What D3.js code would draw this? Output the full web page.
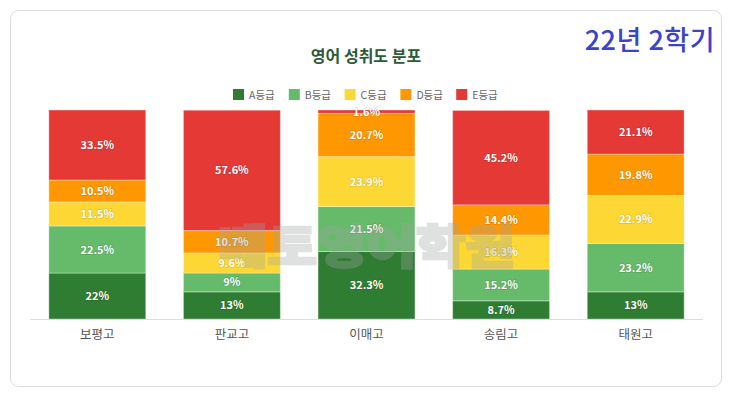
<!DOCTYPE html>
<html>
<head>
<meta charset="utf-8">
<script src="https://cdn.jsdelivr.net/npm/d3@7"></script>
<style>
  body { margin: 0; background: #fff; }
  svg text { font-family: "Noto Sans CJK KR", "Noto Sans", sans-serif; }
</style>
</head>
<body>
<div id="my_chart"></div>
<script>
// data
var schools = ["보평고", "판교고", "이매고", "송림고", "태원고"];
var grades = ["A등급", "B등급", "C등급", "D등급", "E등급"];
var gradeA = [22, 13, 32.3, 8.7, 13];
var gradeB = [22.5, 9, 21.5, 15.2, 23.2];
var gradeC = [11.5, 9.6, 23.9, 16.3, 22.9];
var gradeD = [10.5, 10.7, 20.7, 14.4, 19.8];
var gradeE = [33.5, 57.6, 1.6, 45.2, 21.1];
var colors = ["#2e7d32", "#66bb6a", "#fdd835", "#ff9800", "#e53935"];

var W = 731, H = 395;
var margin = {top: 110, right: 28, bottom: 76, left: 30},
    width = W - margin.left - margin.right,
    height = H - margin.top - margin.bottom;

var svg = d3.select("#my_chart")
    .append("svg")
    .attr("width", W)
    .attr("height", H);

// card frame
svg.append("rect")
    .attr("x", 10.5).attr("y", 10.5)
    .attr("width", 711).attr("height", 376)
    .attr("rx", 8)
    .attr("fill", "#fff")
    .attr("stroke", "#dcdcdc");

// corner label
svg.append("text")
    .attr("x", 715).attr("y", 50)
    .attr("text-anchor", "end")
    .attr("font-size", 27)
    .attr("font-weight", 500)
    .attr("letter-spacing", 0.5)
    .attr("fill", "#3b44c9")
    .text("22년 2학기");

// title
svg.append("text")
    .attr("x", 366).attr("y", 62)
    .attr("text-anchor", "middle")
    .attr("font-size", 16)
    .attr("font-weight", "bold")
    .attr("fill", "#2d5a37")
    .text("영어 성취도 분포");

// legend
var legend = svg.append("g").attr("transform", "translate(233,89)");
grades.forEach(function(g, i) {
    var item = legend.append("g").attr("transform", "translate(" + (i * 55.8) + ",0)");
    item.append("rect")
        .attr("width", 11).attr("height", 11)
        .attr("fill", colors[i]);
    item.append("text")
        .attr("x", 16).attr("y", 9.5)
        .attr("font-size", 10.5)
        .attr("fill", "#666")
        .text(g);
});

var g = svg.append("g")
    .attr("transform", "translate(" + margin.left + "," + margin.top + ")");

var x = d3.scaleBand()
    .domain(schools)
    .range([0, width])
    .paddingInner(0.28)
    .paddingOuter(0.14);

var y = d3.scaleLinear()
    .domain([0, 100])
    .range([height, 0]);

var rows = schools.map(function(s, i) {
    return {school: s, A: gradeA[i], B: gradeB[i], C: gradeC[i], D: gradeD[i], E: gradeE[i]};
});
var keys = ["A", "B", "C", "D", "E"];
var stack = d3.stack().keys(keys)(rows);

// bars
var layers = g.selectAll(".layer")
    .data(stack)
    .enter().append("g")
    .attr("fill", function(d, i) { return colors[i]; });

layers.selectAll("rect")
    .data(function(d) { return d; })
    .enter().append("rect")
    .attr("x", function(d) { return x(d.data.school); })
    .attr("y", function(d) { return y(d[1]); })
    .attr("width", x.bandwidth())
    .attr("height", function(d) { return y(d[0]) - y(d[1]); })
    .attr("stroke", "rgba(255,255,255,0.35)")
    .attr("stroke-width", 1);

// baseline + category labels
g.append("line")
    .attr("x1", 0).attr("x2", width)
    .attr("y1", height + 0.5).attr("y2", height + 0.5)
    .attr("stroke", "#ddd");

var xAxis = g.append("g")
    .attr("transform", "translate(0," + height + ")")
    .call(d3.axisBottom(x).tickSize(0).tickPadding(11));
xAxis.select(".domain").remove();
xAxis.selectAll("text")
    .attr("font-size", 12.5)
    .attr("fill", "#555")
    .style("font-family", "'Noto Sans CJK KR', sans-serif");

// watermark
svg.append("text")
    .attr("x", 218).attr("y", 263)
    .attr("font-size", 46)
    .attr("font-weight", 900)
    .attr("textLength", 297)
    .attr("lengthAdjust", "spacingAndGlyphs")
    .attr("fill", "#9ea5a3")
    .attr("stroke", "#9ea5a3")
    .attr("stroke-width", 2.5)
    .attr("opacity", 0.33)
    .text("베토영어학원");

// value labels
layers.selectAll("text.val")
    .data(function(d) { return d; })
    .enter().append("text")
    .attr("class", "val")
    .attr("x", function(d) { return x(d.data.school) + x.bandwidth() / 2; })
    .attr("y", function(d) { return (y(d[0]) + y(d[1])) / 2 + 4; })
    .attr("text-anchor", "middle")
    .attr("font-size", 11)
    .attr("font-weight", "bold")
    .attr("fill", "#fff")
    .style("paint-order", "stroke")
    .attr("stroke", "rgba(0,0,0,0.12)")
    .attr("stroke-width", 1.5)
    .text(function(d) { return +(d[1] - d[0]).toFixed(1) + "%"; });
</script>
</body>
</html>
